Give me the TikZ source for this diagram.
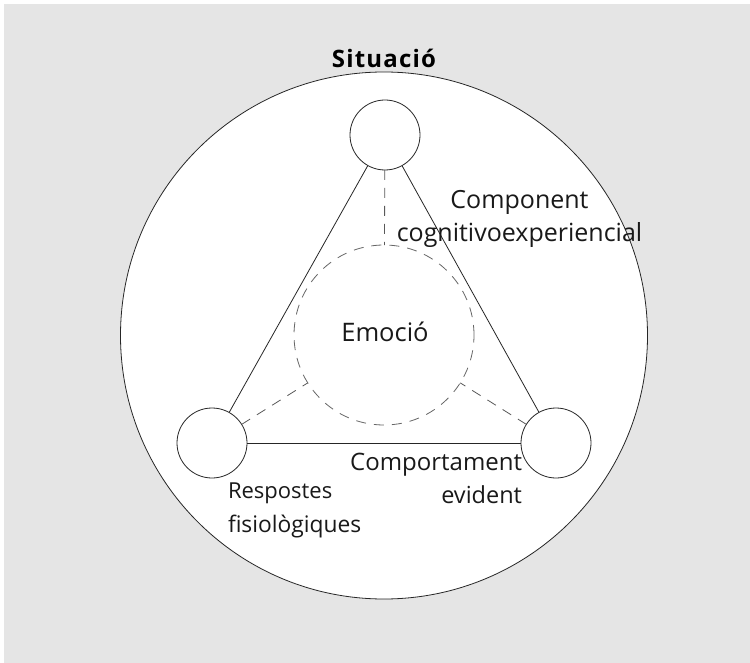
\documentclass[tikz,border=0pt]{standalone}
\usepackage{fontspec}
\setmainfont{Open Sans}
\newfontfamily\titlefont[LetterSpace=5]{Open Sans}
\begin{document}
\begin{tikzpicture}[x=1pt,y=-1pt,
  every node/.style={inner sep=0pt,outer sep=0pt},
  ring/.style={circle,draw=black!85,line width=0.8pt,fill=white},
  pole/.style={circle,draw=black!85,line width=0.8pt,minimum size=70pt},
  core/.style={circle,draw=black!60,line width=0.8pt,dash pattern=on 10pt off 8pt,minimum size=180pt},
  edge/.style={draw=black!85,line width=0.8pt},
  link/.style={draw=black!65,line width=0.8pt,dash pattern=on 10pt off 8pt},
  label/.style={font=\fontsize{#1}{#1}\selectfont,text=black!90},
  label/.default=24,
  heading/.style={font=\titlefont\bfseries\fontsize{24}{26}\selectfont,text=black}]
  % canvas
  \useasboundingbox (0,0) rectangle (750,663);
  \fill[white] (0,0) rectangle (750,663);
  \fill[black!10] (4,4) rectangle (750,663);
  % outer situation circle
  \node[ring,minimum size=527pt] (sit) at (384,335.5) {};
  \node[heading,anchor=base] (sittxt) at (384,68) {Situació};
  % central emotion circle and the three components
  \node[core] (emo) at (384,335) {};
  \node[label=25.5,anchor=base] (emotxt) at (385,341) {Emoció};
  \node[pole] (top) at (385,135) {};
  \node[pole] (left) at (212,443) {};
  \node[pole] (right) at (556,443) {};
  % triangle
  \path[edge] (top) -- (left);
  \path[edge] (left) -- (right);
  \path[edge] (right) -- (top);
  % dashed links to the centre
  \path[link] (top) -- (emo);
  \path[link] (left) -- (emo);
  \path[link] (right) -- (emo);
  % component labels
  \node[label=25,anchor=base] (cog1) at (519.5,209) {Component};
  \node[label=25,anchor=base] (cog2) at (519.5,242) {cognitivoexperiencial};
  \node[label=24,anchor=base east] (beh1) at (522,470) {Comportament};
  \node[label=23.5,anchor=base east] (beh2) at (522,503) {evident};
  \node[label=22,anchor=base west] (phy1) at (228,498) {Respostes};
  \node[label=22.8,anchor=base west] (phy2) at (228,532) {fisiològiques};
\end{tikzpicture}
\end{document}
